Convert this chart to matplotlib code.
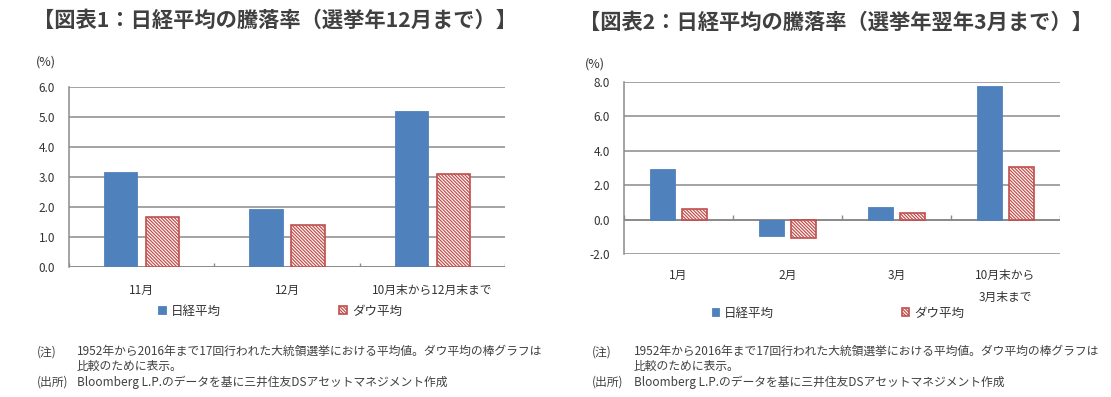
import matplotlib
matplotlib.use('Agg')
import matplotlib.pyplot as plt
import numpy as np

plt.rcParams['font.family'] = ['Noto Sans CJK JP', 'DejaVu Sans']
plt.rcParams['hatch.linewidth'] = 0.9
plt.rcParams['hatch.color'] = '#C0504D'

# data
cats1 = ['11月', '12月', '10月末から12月末まで']
nikkei1 = [3.17, 1.93, 5.2]
dow1 = [1.67, 1.4, 3.1]

cats2 = ['1月', '2月', '3月', '10月末から\n3月末まで']
nikkei2 = [2.95, -0.98, 0.75, 7.77]
dow2 = [0.64, -1.05, 0.38, 3.07]

series_names = ['日経平均', 'ダウ平均']
titles = ['【図表1：日経平均の騰落率（選挙年12月まで）】',
          '【図表2：日経平均の騰落率（選挙年翌年3月まで）】']
note_text = ('1952年から2016年まで17回行われた大統領選挙における平均値。ダウ平均の棒グラフは\n'
             '比較のために表示。')
source_text = 'Bloomberg L.P.のデータを基に三井住友DSアセットマネジメント作成'

BLUE = '#4F81BD'
RED = '#C0504D'
GRID = '#8a8a8a'
TXT = '#333333'

W, H = 1111, 397
fig = plt.figure(figsize=(W / 100, H / 100), dpi=100)


def px(x0, y0, x1, y1):
    # pixel box -> figure fraction rect
    return [x0 / W, 1 - y1 / H, (x1 - x0) / W, (y1 - y0) / H]


def draw(ax, cats, nk, dw, ylim, step, pad, legend_xy, colsp):
    x = np.arange(len(cats))
    bw = 0.23
    off = 0.145
    ax.bar(x - off, nk, bw, color=BLUE, edgecolor=BLUE, linewidth=0.6,
           label=series_names[0], zorder=3)
    ax.bar(x + off, dw, bw, color='white', edgecolor=RED, linewidth=1.2,
           hatch='\\' * 10, label=series_names[1], zorder=3)
    ax.set_xlim(-0.5, len(cats) - 0.5)
    ax.set_ylim(*ylim)
    ticks = np.arange(ylim[0], ylim[1] + step / 2, step)
    ax.set_yticks(ticks)
    ax.set_yticklabels([f'{t:.1f}' for t in ticks])
    ax.yaxis.grid(True, color=GRID, linewidth=1.1, zorder=0)
    ax.set_axisbelow(True)
    for s in ['top', 'right', 'bottom']:
        ax.spines[s].set_visible(False)
    ax.spines['left'].set_color(GRID)
    ax.spines['left'].set_linewidth(1.1)
    ax.tick_params(axis='y', length=0, pad=10, labelsize=8.5, labelcolor=TXT)
    ax.set_xticks(x)
    ax.set_xticklabels(cats)
    ax.tick_params(axis='x', length=0, pad=pad, labelsize=8.5, labelcolor=TXT)
    for lab in ax.get_xticklabels():
        lab.set_linespacing(1.9)
    # zero axis line with small category separators
    ax.axhline(0, color=GRID, linewidth=1.3, zorder=2)
    bounds = np.arange(len(cats) + 1) - 0.5
    tick_h = (ylim[1] - ylim[0]) * 0.025
    ax.vlines(bounds, 0, tick_h, color=GRID, linewidth=1.0, zorder=2)
    leg = ax.legend(loc='center', bbox_to_anchor=legend_xy,
                    bbox_transform=fig.transFigure, ncol=2, frameon=False,
                    fontsize=9, handlelength=0.6, handleheight=0.6,
                    handletextpad=0.4, columnspacing=colsp)
    for t in leg.get_texts():
        t.set_color(TXT)


ax1 = fig.add_axes(px(69, 87, 505, 267))
draw(ax1, cats1, nikkei1, dow1, (0, 6), 1.0, 12,
     (280 / W, 1 - 311 / H), 9.5)

ax2 = fig.add_axes(px(624, 82, 1060, 254))
draw(ax2, cats2, nikkei2, dow2, (-2, 8), 2.0, 11,
     (838 / W, 1 - 313 / H), 10.2)

# titles
fig.text(33 / W, 1 - 20 / H, titles[0], fontsize=15.3, fontweight='bold',
         color='#404040', va='center', ha='left')
fig.text(579 / W, 1 - 22 / H, titles[1], fontsize=15.3, fontweight='bold',
         color='#404040', va='center', ha='left')

# unit labels
fig.text(36 / W, 1 - 62 / H, '(%)', fontsize=9, color=TXT, va='center')
fig.text(585 / W, 1 - 64 / H, '(%)', fontsize=9, color=TXT, va='center')

# notes
for nx, tx in [(37, 77), (592, 634)]:
    fig.text(nx / W, 1 - 352 / H, '(注)', fontsize=8.5, color='#404040', va='center')
    fig.text(tx / W, 1 - 345 / H, note_text, fontsize=8.5, color='#404040',
             va='top', linespacing=1.15)
    fig.text(nx / W, 1 - 382 / H, '(出所)', fontsize=8.5, color='#404040', va='center')
    fig.text(tx / W, 1 - 382 / H, source_text, fontsize=8.5, color='#404040', va='center')

fig.savefig('out.png', dpi=100, facecolor='white')
